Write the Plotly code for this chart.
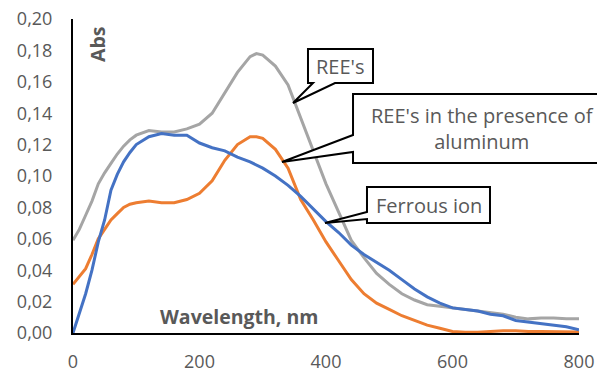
import plotly.graph_objects as go

# wavelength grid (nm)
wavelength = [0, 10, 20, 30, 40, 50, 60, 70, 80, 90, 100, 120, 140, 160, 180, 200, 220, 240, 260, 280,
              290, 300, 320, 340, 360, 380, 400, 420, 440, 460, 480, 500, 520, 540, 560, 580, 600, 620,
              640, 660, 680, 700, 720, 740, 760, 780, 800]

ree = [0.059, 0.066, 0.075, 0.084, 0.095, 0.102, 0.108, 0.114, 0.119, 0.123, 0.126, 0.129, 0.128, 0.128,
       0.130, 0.133, 0.140, 0.153, 0.166, 0.176, 0.178, 0.177, 0.170, 0.158, 0.137, 0.116, 0.095, 0.077,
       0.059, 0.048, 0.038, 0.031, 0.025, 0.021, 0.018, 0.017, 0.016, 0.015, 0.014, 0.013, 0.012, 0.010,
       0.009, 0.0095, 0.0095, 0.009, 0.009]

ree_al = [0.031, 0.036, 0.041, 0.050, 0.060, 0.066, 0.072, 0.076, 0.080, 0.082, 0.083, 0.084, 0.083, 0.083,
          0.085, 0.089, 0.097, 0.110, 0.120, 0.125, 0.125, 0.124, 0.117, 0.105, 0.085, 0.072, 0.058, 0.046,
          0.034, 0.025, 0.019, 0.015, 0.011, 0.008, 0.005, 0.003, 0.001, 0.0005, 0.0005, 0.001, 0.0015,
          0.0015, 0.001, 0.001, 0.001, 0.001, 0.0006]

ferrous = [0.0, 0.012, 0.025, 0.040, 0.058, 0.072, 0.091, 0.101, 0.109, 0.115, 0.120, 0.125, 0.127, 0.126,
           0.126, 0.121, 0.118, 0.116, 0.112, 0.109, 0.107, 0.105, 0.100, 0.094, 0.087, 0.079, 0.071, 0.064,
           0.056, 0.050, 0.045, 0.040, 0.034, 0.028, 0.023, 0.019, 0.016, 0.015, 0.014, 0.012, 0.011, 0.008,
           0.007, 0.006, 0.005, 0.004, 0.002]

x_ticks = [0, 200, 400, 600, 800]
y_ticks = [0, 0.02, 0.04, 0.06, 0.08, 0.10, 0.12, 0.14, 0.16, 0.18, 0.20]

FONT = "Open Sans"
TXT = "#595959"
FS = 18     # tick labels
FS_BOX = 20  # callout text

fig = go.Figure()
fig.add_trace(go.Scatter(x=wavelength, y=ree, mode="lines", name="REE's",
                         line=dict(color="#A5A5A5", width=3)))
fig.add_trace(go.Scatter(x=wavelength, y=ree_al, mode="lines", name="REE's in the presence of aluminum",
                         line=dict(color="#ED7D31", width=3)))
fig.add_trace(go.Scatter(x=wavelength, y=ferrous, mode="lines", name="Ferrous ion",
                         line=dict(color="#4472C4", width=3)))

W, H = 597, 373
# plot area in pixels
L, R, T, B = 73, 579, 19, 333


def px(x, y):
    return (x - L) / (R - L), (B - y) / (B - T)


def callout(box, base, tip, side, text):
    # outline of box with wedge pointer, in pixel coords -> paper
    x0, y0, x1, y1 = box
    if side == "bottom":
        pts = [(x0, y0), (x1, y0), (x1, y1), (base[1], y1), tip, (base[0], y1), (x0, y1)]
    else:
        pts = [(x0, y0), (x1, y0), (x1, y1), (x0, y1), (x0, base[1]), tip, (x0, base[0])]
    path = ""
    for i, (a, b) in enumerate(pts):
        u, v = px(a, b)
        path += ("M" if i == 0 else "L") + f"{u:.4f},{v:.4f} "
    path += "Z"
    fig.add_shape(type="path", xref="paper", yref="paper", path=path,
                  fillcolor="white", line=dict(color="black", width=2), layer="above")
    cx, cy = px((x0 + x1) / 2, (y0 + y1) / 2)
    fig.add_annotation(xref="paper", yref="paper", x=cx, y=cy, text=text, showarrow=False,
                       xanchor="center", yanchor="middle",
                       font=dict(family=FONT, size=FS_BOX, color=TXT), align="center")


callout((308, 49, 373, 83), (313, 335), (293, 103), "bottom", "REE's")
# this box runs off the right edge of the picture
callout((353, 94, 612, 163), (135, 152), (282, 162), "left", "REE's in the presence of<br>aluminum")
callout((367, 187, 490, 223), (212, 219), (325, 223), "left", "Ferrous ion")

fig.add_annotation(xref="paper", yref="paper", x=px(98, 0)[0], y=px(0, 44)[1], text="<b>Abs</b>",
                   textangle=-90, showarrow=False, xanchor="center", yanchor="middle",
                   font=dict(family=FONT, size=FS_BOX - 0.5, color=TXT))
fig.add_annotation(xref="paper", yref="paper", x=px(239, 0)[0], y=px(0, 316)[1], text="<b>Wavelength, nm</b>",
                   showarrow=False, xanchor="center", yanchor="middle",
                   font=dict(family=FONT, size=FS_BOX - 0.5, color=TXT))

fig.update_xaxes(range=[0, 800], tickvals=x_ticks, showgrid=False, zeroline=False,
                 showline=True, linecolor="black", linewidth=2, ticks="", ticklabelstandoff=11,
                 ticklabeloverflow="allow", tickfont=dict(family=FONT, size=FS, color=TXT))
fig.update_yaxes(range=[0, 0.2], tickvals=y_ticks, tickformat=".2f", showgrid=False, zeroline=False,
                 showline=True, linecolor="black", linewidth=2, ticks="", ticklabelstandoff=15,
                 ticklabeloverflow="allow", tickfont=dict(family=FONT, size=FS, color=TXT))

fig.update_layout(width=W, height=H,
                  margin=dict(l=L, r=W - R, t=T, b=H - B, autoexpand=False),
                  plot_bgcolor="white", paper_bgcolor="white", showlegend=False, separators=",.")

# drop the default body margin so the figure sits at the page corner
fig.write_html("out.html", config={"displayModeBar": False},
               post_script="document.body.style.margin='0';")
